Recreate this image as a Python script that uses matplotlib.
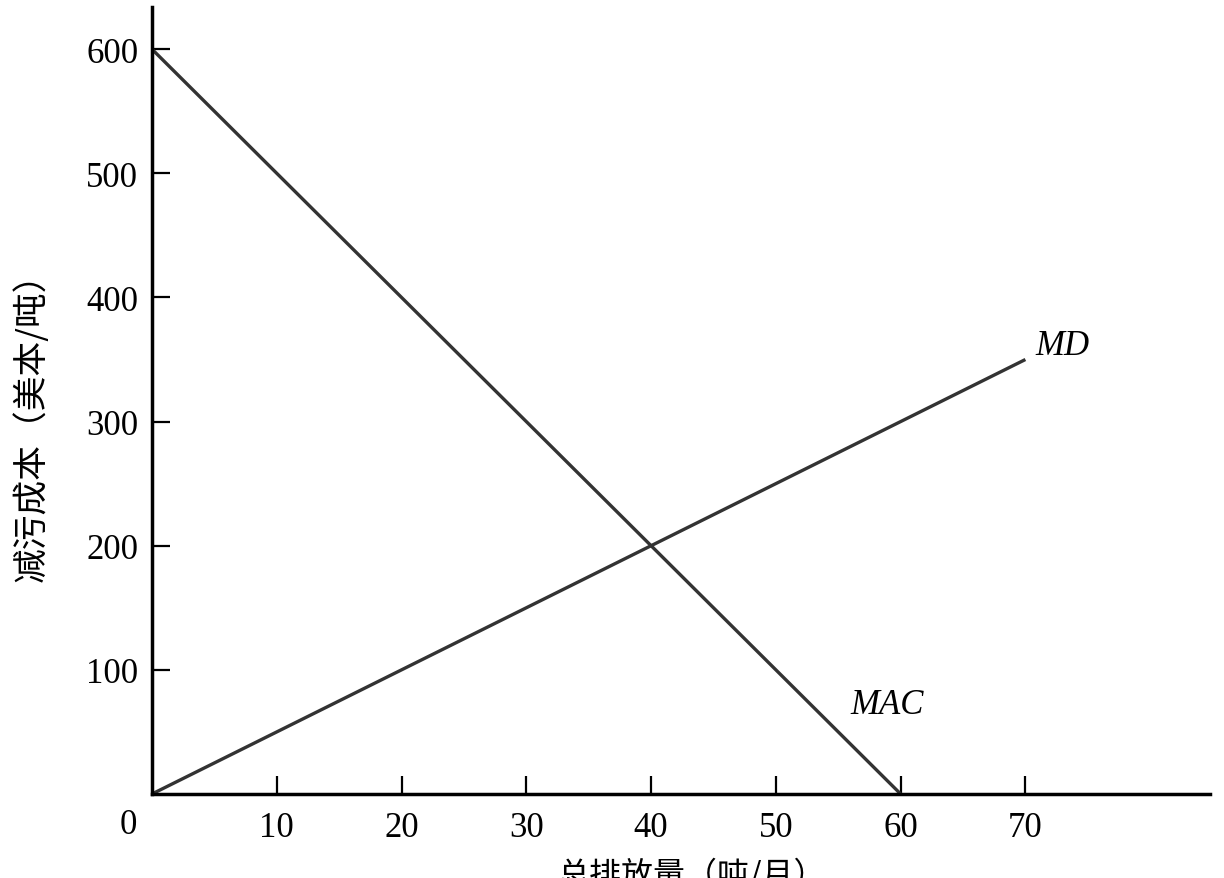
import matplotlib
matplotlib.use("Agg")
import matplotlib.pyplot as plt

# ── Data ──────────────────────────────────────────────
mac_x = [0, 60]
mac_y = [600, 0]
md_x = [0, 70]
md_y = [0, 350]

x_ticks = [10, 20, 30, 40, 50, 60, 70]
y_ticks = [100, 200, 300, 400, 500, 600]

SERIF = ["Liberation Serif", "DejaVu Serif"]
CJK = ["Noto Sans CJK SC", "DejaVu Sans"]

fig = plt.figure(figsize=(12.24, 8.79), dpi=100)
ax = fig.add_axes([0.1242, 0.0956, 0.8644, 0.8953])

ax.plot(mac_x, mac_y, color="#333333", linewidth=2.4, solid_capstyle="butt")
ax.plot(md_x, md_y, color="#333333", linewidth=2.4, solid_capstyle="butt")

ax.text(70.8, 361, "MD", fontsize=25, fontstyle="italic", family=SERIF,
        ha="left", va="center")
ax.text(56.0, 72, "MAC", fontsize=25, fontstyle="italic", family=SERIF,
        ha="left", va="center")

ax.set_xlim(0, 84.8)
ax.set_ylim(0, 634)

ax.spines["top"].set_visible(False)
ax.spines["right"].set_visible(False)
for s in ("left", "bottom"):
    ax.spines[s].set_linewidth(2.5)
    ax.spines[s].set_color("black")

ax.set_xticks(x_ticks)
ax.set_yticks(y_ticks)
ax.set_xticklabels([str(v) for v in x_ticks], family=SERIF, fontsize=25)
ax.set_yticklabels([str(v) for v in y_ticks], family=SERIF, fontsize=25)
ax.tick_params(axis="both", direction="in", length=13, width=1.6, color="black")
ax.tick_params(axis="x", pad=12)
ax.tick_params(axis="y", pad=10)

# origin label sits a little left of the axis corner
ax.text(-1.9, -25, "0", family=SERIF, fontsize=25, ha="center", va="center",
        clip_on=False)

ax.set_ylabel("减污成本（美本/吨）", family=CJK, fontsize=25)
ax.yaxis.set_label_coords(-0.097, 0.478)
# the x label runs off the bottom edge, as in the source
fig.text(0.565, 0.024, "总排放量（吨/月）", family=CJK, fontsize=23,
         ha="center", va="top")

fig.savefig("out.png", dpi=100)
